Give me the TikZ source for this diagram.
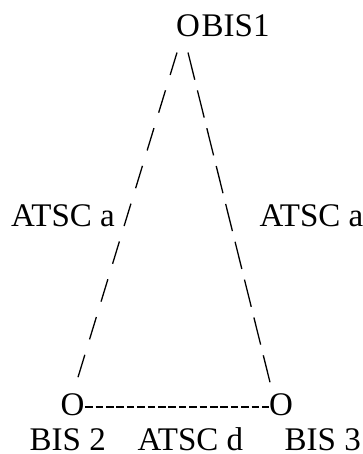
\documentclass[tikz,border=0pt]{standalone}
\usepackage{fontspec}
\setmainfont{Liberation Serif}
\usepackage{tikz}

\begin{document}
\begin{tikzpicture}[x=1pt,y=-1pt,
  every node/.style={inner sep=0pt,font=\fontsize{33}{39}\selectfont},
  onode/.style={anchor=base},
  txt/.style={anchor=base west},
  slashl/.style={line width=1.3pt,dash pattern=on 23.4pt off 16.1pt},
  slashr/.style={line width=1.3pt,dash pattern=on 28pt off 11pt},
  hyph/.style={line width=1.5pt,dash pattern=on 7.5pt off 2.9pt}]
\useasboundingbox (0,0) rectangle (363,454);
\node[onode] (bis1) at (188,37) {O};
\node[txt] (bis1l) at (201.5,37) {BIS1};
\node[onode] (bis2) at (72.5,415) {O};
\node[onode] (bis3) at (281,415) {O};
\node[txt] (bis2l) at (29.5,450) {BIS 2};
\node[txt] (atscd) at (137.5,450) {ATSC d};
\node[txt] (bis3l) at (284.5,450) {BIS 3};
\node[txt] (atscl) at (11,226.5) {ATSC a};
\node[txt] (atscr) at (259.5,226.5) {ATSC a};
\draw[slashl] ([shift={(-11,15)}]bis1.south) -- ([shift={(5.5,-15.7)}]bis2.north);
\draw[slashr] ([shift={(0,15)}]bis1.south) -- ([shift={(-11,-10.7)}]bis3.north);
\draw[hyph] ([shift={(0.6,2.8)}]bis2.east) -- ([shift={(0.2,2.8)}]bis3.west);
\end{tikzpicture}
\end{document}
